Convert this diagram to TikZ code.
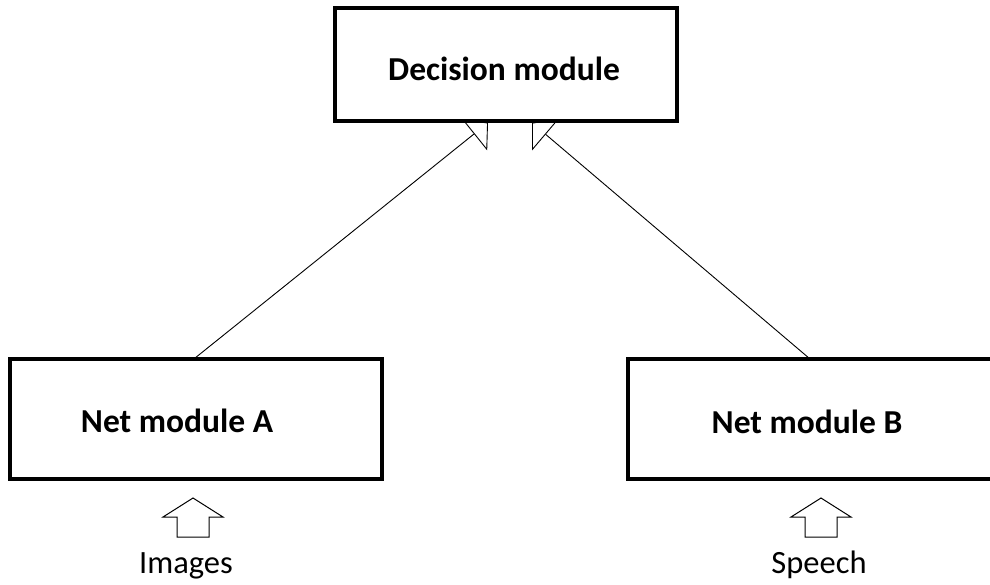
\documentclass[tikz,border=0pt]{standalone}
\usepackage{fontspec}
\setmainfont{Carlito}
\usetikzlibrary{arrows.meta,backgrounds}

\tikzset{
  modbox/.style={draw, line width=3.5pt, fill=white, inner sep=0pt},
  modtext/.style={font=\fontsize{33.5}{40}\selectfont\bfseries, anchor=base},
  intext/.style={font=\fontsize{32.5}{39}\selectfont, anchor=base},
  feed/.style={line width=0.9pt, -{Triangle[open,length=18pt,width=42pt]}},
  inarrow/.pic={\draw[line width=1pt, line join=miter]
    (0,-19)--(30,0)--(16,0)--(16,20)--(-16,20)--(-16,0)--(-30,0)--cycle;}
}

\begin{document}
\begin{tikzpicture}[x=1pt,y=-1pt]
\useasboundingbox (0,0) rectangle (990,584);
\clip (0,0) rectangle (990,584);
%%\draw[help lines,step=50] (0,0) grid (990,584);
\node[modbox, minimum width=342pt, minimum height=113pt] (dec) at (506,64.5) {};
\node[modbox, minimum width=372pt, minimum height=120pt] (netA) at (196,419) {};
\node[modbox, minimum width=372pt, minimum height=120pt] (netB) at (814,419) {};
\node[modtext] (dectxt) at (504,80) {Decision module};
\node[modtext] (netAtxt) at (177,432) {Net module A};
\node[modtext] (netBtxt) at (807,433) {Net module B};
\begin{scope}[on background layer]
\draw[feed] (netA.north) -- ([xshift=-18pt]dec.south);
\draw[feed] ([xshift=-6pt]netB.north) -- ([xshift=26pt]dec.south);
\end{scope}
\pic at (193,517) {inarrow};
\pic at (821,517) {inarrow};
\node[intext] (imgtxt) at (186,573) {Images};
\node[intext] (spchtxt) at (819,573) {Speech};
\end{tikzpicture}
\end{document}
